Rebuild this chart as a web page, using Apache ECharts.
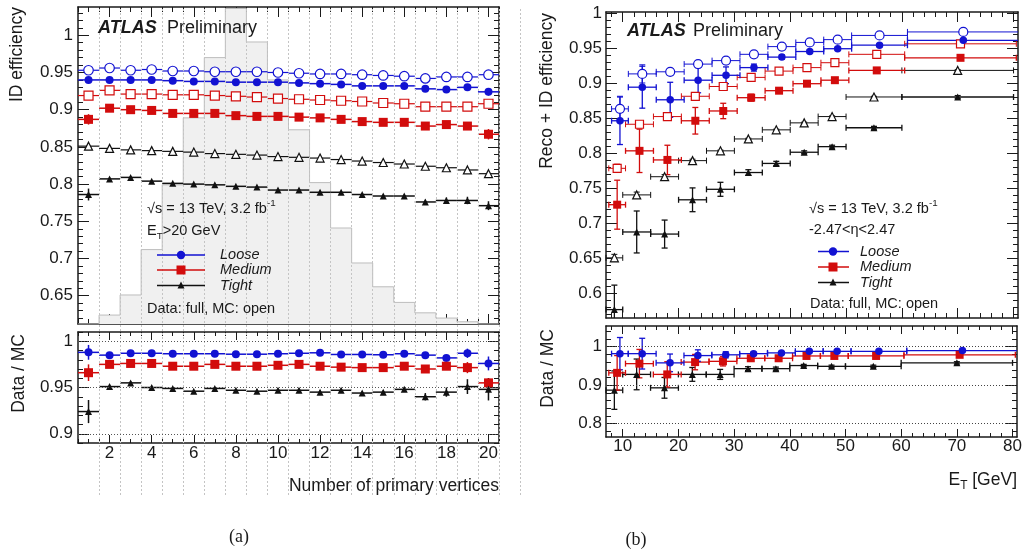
<!DOCTYPE html>
<html>
<head>
<meta charset="utf-8">
<script src="https://cdn.jsdelivr.net/npm/echarts@6/dist/echarts.min.js"></script>
<style>
  html, body { margin: 0; padding: 0; background: #fff; }
  #chart { width: 1025px; height: 559px; }
</style>
</head>
<body>
<div id="chart"></div>
<script>
// ---------- (a) efficiency vs number of primary vertices ----------
const nvtx = [1, 2, 3, 4, 5, 6, 7, 8, 9, 10, 11, 12, 13, 14, 15, 16, 17, 18, 19, 20];
// MC pile-up distribution, drawn as a step histogram on the efficiency scale
const nvtxHist = [0.612, 0.624, 0.651, 0.712, 0.799, 0.889, 0.970, 1.036, 0.991, 0.940,
                  0.873, 0.802, 0.741, 0.694, 0.662, 0.641, 0.627, 0.620, 0.615, 0.612];

const looseDataNv  = [0.940, 0.940, 0.940, 0.940, 0.939, 0.938, 0.938, 0.937, 0.937, 0.937, 0.936, 0.935, 0.934, 0.932, 0.932, 0.932, 0.928, 0.927, 0.930, 0.924];
const looseMcNv    = [0.953, 0.956, 0.953, 0.954, 0.952, 0.952, 0.951, 0.951, 0.951, 0.950, 0.949, 0.948, 0.948, 0.947, 0.946, 0.945, 0.942, 0.944, 0.944, 0.947];
const mediumDataNv = [0.887, 0.902, 0.900, 0.899, 0.895, 0.895, 0.895, 0.892, 0.891, 0.891, 0.890, 0.889, 0.887, 0.884, 0.883, 0.883, 0.878, 0.880, 0.878, 0.867];
const mediumMcNv   = [0.919, 0.926, 0.921, 0.921, 0.920, 0.920, 0.919, 0.918, 0.917, 0.915, 0.914, 0.913, 0.912, 0.911, 0.909, 0.908, 0.904, 0.904, 0.904, 0.908];
const tightDataNv  = [0.786, 0.807, 0.809, 0.804, 0.801, 0.800, 0.799, 0.797, 0.796, 0.792, 0.792, 0.789, 0.789, 0.786, 0.784, 0.784, 0.776, 0.778, 0.778, 0.771];
const tightMcNv    = [0.851, 0.848, 0.846, 0.845, 0.844, 0.843, 0.841, 0.840, 0.839, 0.837, 0.836, 0.835, 0.833, 0.831, 0.829, 0.827, 0.824, 0.822, 0.819, 0.814];

const looseDataNvErr  = [0.004, 0.001, 0.001, 0.001, 0.001, 0.001, 0.001, 0.001, 0.001, 0.001, 0.001, 0.001, 0.001, 0.001, 0.002, 0.002, 0.002, 0.003, 0.003, 0.005];
const mediumDataNvErr = [0.007, 0.002, 0.001, 0.001, 0.001, 0.001, 0.001, 0.001, 0.001, 0.001, 0.001, 0.001, 0.002, 0.002, 0.002, 0.002, 0.003, 0.003, 0.004, 0.007];
const tightDataNvErr  = [0.008, 0.002, 0.002, 0.001, 0.001, 0.001, 0.001, 0.001, 0.001, 0.001, 0.001, 0.002, 0.002, 0.002, 0.002, 0.002, 0.003, 0.004, 0.005, 0.006];

const looseRatioNv  = [0.988, 0.985, 0.987, 0.987, 0.9865, 0.9865, 0.9865, 0.986, 0.986, 0.9865, 0.987, 0.9875, 0.9857, 0.9857, 0.9854, 0.9865, 0.985, 0.982, 0.987, 0.976];
const mediumRatioNv = [0.966, 0.975, 0.976, 0.976, 0.973, 0.973, 0.975, 0.973, 0.973, 0.974, 0.975, 0.973, 0.972, 0.9715, 0.9715, 0.973, 0.970, 0.973, 0.9715, 0.955];
const tightRatioNv  = [0.924, 0.951, 0.955, 0.950, 0.949, 0.946, 0.949, 0.947, 0.946, 0.947, 0.947, 0.945, 0.947, 0.944, 0.945, 0.948, 0.940, 0.945, 0.951, 0.948];
const looseRatioNvErr  = [0.008, 0.001, 0.001, 0.001, 0.001, 0.001, 0.001, 0.001, 0.001, 0.001, 0.001, 0.001, 0.001, 0.001, 0.002, 0.002, 0.002, 0.003, 0.005, 0.0075];
const mediumRatioNvErr = [0.009, 0.001, 0.001, 0.001, 0.001, 0.001, 0.001, 0.001, 0.001, 0.001, 0.001, 0.001, 0.002, 0.002, 0.002, 0.002, 0.003, 0.003, 0.006, 0.005];
const tightRatioNvErr  = [0.0125, 0.002, 0.002, 0.002, 0.001, 0.001, 0.001, 0.001, 0.002, 0.002, 0.002, 0.002, 0.002, 0.002, 0.002, 0.002, 0.004, 0.005, 0.008, 0.012];

// ---------- (b) efficiency vs E_T ----------
const etLow  = [7, 10, 15, 20, 25, 30, 35, 40, 45, 50, 60];
const etHigh = [10, 15, 20, 25, 30, 35, 40, 45, 50, 60, 80];

const looseDataEt  = [0.846, 0.894, 0.876, 0.904, 0.911, 0.922, 0.937, 0.945, 0.949, 0.954, 0.961];
const looseMcEt    = [0.863, 0.913, 0.916, 0.927, 0.932, 0.941, 0.952, 0.958, 0.962, 0.968, 0.973];
const mediumDataEt = [0.726, 0.803, 0.790, 0.846, 0.860, 0.879, 0.889, 0.899, 0.904, 0.918, 0.936];
const mediumMcEt   = [0.778, 0.841, 0.852, 0.881, 0.895, 0.908, 0.917, 0.922, 0.929, 0.941, 0.956];
const tightDataEt  = [0.576, 0.687, 0.684, 0.733, 0.748, 0.772, 0.785, 0.801, 0.809, 0.836, 0.880];
const tightMcEt    = [0.650, 0.740, 0.766, 0.789, 0.803, 0.820, 0.833, 0.843, 0.852, 0.880, 0.918];

const looseDataEtErr  = [0.034, 0.030, 0.025, 0.018, 0.012, 0.005, 0.003, 0.002, 0.002, 0.002, 0.002];
const looseMcEtErr    = [0.018, 0.013, 0.004, 0.003, 0.002, 0.001, 0.001, 0.001, 0.001, 0.001, 0.001];
const mediumDataEtErr = [0.035, 0.031, 0.021, 0.019, 0.011, 0.005, 0.003, 0.002, 0.002, 0.002, 0.002];
const mediumMcEtErr   = [0.006, 0.004, 0.003, 0.002, 0.001, 0.001, 0.001, 0.001, 0.001, 0.001, 0.001];
const tightDataEtErr  = [0.035, 0.030, 0.020, 0.017, 0.010, 0.004, 0.003, 0.002, 0.002, 0.002, 0.002];
const tightMcEtErr    = [0.005, 0.004, 0.003, 0.002, 0.001, 0.001, 0.001, 0.001, 0.001, 0.001, 0.001];

const looseRatioEt  = [0.982, 0.982, 0.958, 0.977, 0.979, 0.982, 0.984, 0.988, 0.988, 0.988, 0.990];
const mediumRatioEt = [0.932, 0.956, 0.928, 0.960, 0.962, 0.970, 0.970, 0.976, 0.976, 0.976, 0.979];
const tightRatioEt  = [0.887, 0.928, 0.893, 0.928, 0.928, 0.943, 0.943, 0.951, 0.949, 0.949, 0.958];
const looseRatioEtErr  = [0.042, 0.040, 0.023, 0.015, 0.008, 0.004, 0.003, 0.002, 0.002, 0.002, 0.002];
const mediumRatioEtErr = [0.045, 0.037, 0.033, 0.020, 0.012, 0.005, 0.004, 0.003, 0.003, 0.003, 0.003];
const tightRatioEtErr  = [0.050, 0.040, 0.027, 0.018, 0.013, 0.005, 0.004, 0.003, 0.003, 0.003, 0.003];

// ---------- tick labels ----------
const nvtxTicks   = [2, 4, 6, 8, 10, 12, 14, 16, 18, 20];
const etTicks     = [10, 20, 30, 40, 50, 60, 70, 80];
const effTicksA   = [0.65, 0.7, 0.75, 0.8, 0.85, 0.9, 0.95, 1];
const ratioTicksA = [0.9, 0.95, 1];
const effTicksB   = [0.6, 0.65, 0.7, 0.75, 0.8, 0.85, 0.9, 0.95, 1];
const ratioTicksB = [0.8, 0.9, 1];

// ---------- styling ----------
const FONT = '"Liberation Sans", Arial, Helvetica, sans-serif';
const INK = '#1a1a1a';
const BLUE = '#1212d2';
const RED = '#d20c0c';
const BLACK = '#111111';
const SHIFT = { loose: 1.0, medium: 0.5, tight: 0.0 };   // horizontal offsets in panel (b)

function minorTicks(min, max, step, majors) {
  const out = [];
  const start = Math.ceil(min / step - 1e-9);
  for (let k = start; k * step <= max + 1e-9; k++) {
    const v = Math.round(k * step * 1e4) / 1e4;
    if (!majors.some(m => Math.abs(m - v) < 1e-6)) out.push(v);
  }
  return out;
}

const xAxes = [];
const yAxes = [];

// Builds a ROOT-style closed frame (major + minor inward ticks on all four sides)
function addFrame(gi, xr, yr, xMaj, xStep, yMaj, yStep, o) {
  const xi = xAxes.length, yi = yAxes.length;
  const xMin = minorTicks(xr[0], xr[1], xStep, xMaj);
  const yMin = minorTicks(yr[0], yr[1], yStep, yMaj);
  const frameLine = { show: true, onZero: false, lineStyle: { color: INK, width: 1.5 } };
  ['bottom', 'top'].forEach((pos, k) => {
    xAxes.push({
      gridIndex: gi, type: 'value', min: xr[0], max: xr[1], position: pos,
      axisLine: frameLine,
      axisTick: { show: true, inside: true, length: o.xMajLen, customValues: xMaj, lineStyle: { color: INK, width: 1 } },
      axisLabel: { show: k === 0 && o.xLabels, customValues: xMaj, margin: o.xMargin, color: INK,
                   fontSize: 17, fontFamily: FONT, formatter: v => String(v) },
      splitLine: { show: false }
    });
    xAxes.push({
      gridIndex: gi, type: 'value', min: xr[0], max: xr[1], position: pos,
      axisLine: { show: false, onZero: false },
      axisTick: { show: true, inside: true, length: o.xMinLen, customValues: xMin, lineStyle: { color: INK, width: 1 } },
      axisLabel: { show: false }, splitLine: { show: false }
    });
  });
  ['left', 'right'].forEach((pos, k) => {
    yAxes.push({
      gridIndex: gi, type: 'value', min: yr[0], max: yr[1], position: pos,
      axisLine: frameLine,
      axisTick: { show: true, inside: true, length: o.yMajLen, customValues: yMaj, lineStyle: { color: INK, width: 1 } },
      axisLabel: { show: k === 0, customValues: yMaj, margin: o.yMargin, color: INK,
                   fontSize: 17, fontFamily: FONT, formatter: v => String(+(+v).toFixed(3)) },
      splitLine: { show: false }
    });
    yAxes.push({
      gridIndex: gi, type: 'value', min: yr[0], max: yr[1], position: pos,
      axisLine: { show: false, onZero: false },
      axisTick: { show: true, inside: true, length: o.yMinLen, customValues: yMin, lineStyle: { color: INK, width: 1 } },
      axisLabel: { show: false }, splitLine: { show: false }
    });
  });
  return { xi, yi };
}

const grids = [
  { left: 78, top: 7, width: 421, height: 317 },     // (a) efficiency
  { left: 78, top: 332, width: 421, height: 111 },   // (a) ratio
  { left: 606, top: 12, width: 412, height: 306 },   // (b) efficiency
  { left: 606, top: 326, width: 412, height: 111 },  // (b) ratio
  { left: 78, top: 7, width: 421 * 21 / 20, height: 488 }  // bin-edge guide lines of (a)
];

const nvRange = [0.5, 20.5];
const etRange = [7, 80.8];
const fA  = addFrame(0, nvRange, [0.612, 1.038], nvtxTicks, 0.5, effTicksA, 0.01,
  { xLabels: false, xMajLen: 10, xMinLen: 5, yMajLen: 11, yMinLen: 5, xMargin: 3, yMargin: 5 });
const fAr = addFrame(1, nvRange, [0.89, 1.01], nvtxTicks, 0.5, ratioTicksA, 0.01,
  { xLabels: true, xMajLen: 8, xMinLen: 4, yMajLen: 11, yMinLen: 5, xMargin: 2, yMargin: 5 });
const fB  = addFrame(2, etRange, [0.564, 1.0015], etTicks, 2, effTicksB, 0.01,
  { xLabels: false, xMajLen: 10, xMinLen: 5, yMajLen: 11, yMinLen: 5, xMargin: 3, yMargin: 4 });
const fBr = addFrame(3, etRange, [0.765, 1.054], etTicks, 2, ratioTicksB, 0.02,
  { xLabels: true, xMajLen: 8, xMinLen: 4, yMajLen: 11, yMinLen: 5, xMargin: 1, yMargin: 4 });

const guideXi = xAxes.length, guideYi = yAxes.length;
xAxes.push({ gridIndex: 4, type: 'value', min: 0.5, max: nvtx.length + 1.5, show: false });
yAxes.push({ gridIndex: 4, type: 'value', min: 0, max: 1, show: false });

// error bars: horizontal bin-width bar plus vertical uncertainty, clipped to the frame
function errRenderer(color, lw, caps) {
  return function (params, api) {
    const cs = params.coordSys;
    const x0 = cs.x, x1 = cs.x + cs.width, y0 = cs.y, y1 = cs.y + cs.height;
    const clx = v => Math.max(x0, Math.min(x1, v));
    const cly = v => Math.max(y0, Math.min(y1, v));
    const y = api.value(3), e = api.value(4), xc = api.value(2);
    const pL = api.coord([api.value(0), y]);
    const pR = api.coord([api.value(1), y]);
    const pT = api.coord([xc, y + e]);
    const pB = api.coord([xc, y - e]);
    const px = api.coord([xc, y])[0];
    const yy = pL[1];
    const st = { stroke: color, lineWidth: lw, fill: null };
    const kids = [];
    if (yy >= y0 && yy <= y1) {
      kids.push({ type: 'line', shape: { x1: clx(pL[0]), y1: yy, x2: clx(pR[0]), y2: yy }, style: st });
      if (caps) {
        if (pL[0] >= x0) kids.push({ type: 'line', shape: { x1: pL[0], y1: yy - 3, x2: pL[0], y2: yy + 3 }, style: st });
        if (pR[0] <= x1) kids.push({ type: 'line', shape: { x1: pR[0], y1: yy - 3, x2: pR[0], y2: yy + 3 }, style: st });
      }
    }
    if (e > 0) {
      kids.push({ type: 'line', shape: { x1: px, y1: cly(pT[1]), x2: px, y2: cly(pB[1]) }, style: st });
      if (caps) {
        if (pT[1] >= y0) kids.push({ type: 'line', shape: { x1: px - 3, y1: pT[1], x2: px + 3, y2: pT[1] }, style: st });
        if (pB[1] <= y1) kids.push({ type: 'line', shape: { x1: px - 3, y1: pB[1], x2: px + 3, y2: pB[1] }, style: st });
      }
    }
    return { type: 'group', children: kids };
  };
}

function pointsSeries(frame, xs, lo, hi, vals, errs, st) {
  const errData = xs.map((x, i) => [lo[i], hi[i], x, vals[i], errs ? errs[i] : 0]);
  return [
    {
      type: 'custom', xAxisIndex: frame.xi, yAxisIndex: frame.yi, silent: true, z: 3,
      encode: { x: 2, y: 3 },
      renderItem: errRenderer(st.color, st.lw, st.caps),
      data: errData
    },
    {
      type: 'scatter', xAxisIndex: frame.xi, yAxisIndex: frame.yi, silent: true, z: 4,
      symbol: st.symbol, symbolSize: st.size,
      itemStyle: st.open ? { color: '#ffffff', borderColor: st.color, borderWidth: 1.2, opacity: 1 }
                         : { color: st.color, opacity: 1 },
      data: xs.map((x, i) => [x, vals[i]])
    }
  ];
}

const series = [];

// histogram (step outline + light fill)
const histPts = nvtx.map((n, i) => [n - 0.5, nvtxHist[i]]);
histPts.push([nvtx[nvtx.length - 1] + 0.5, nvtxHist[nvtxHist.length - 1]]);
series.push({
  type: 'line', xAxisIndex: fA.xi, yAxisIndex: fA.yi, step: 'end', symbol: 'none', silent: true, z: 1,
  lineStyle: { color: '#bdbdbd', width: 1 },
  areaStyle: { color: '#f0f0f0', opacity: 1, origin: 'start' },
  data: histPts
});

// dashed guide lines at the bin edges of (a)
series.push({
  type: 'line', xAxisIndex: guideXi, yAxisIndex: guideYi, data: [], silent: true, z: 2,
  markLine: {
    silent: true, symbol: 'none', label: { show: false },
    lineStyle: { color: '#c4c4c4', width: 1, type: [2, 2] },
    data: nvtx.map(n => n + 0.5).concat([nvtx.length + 1.5]).map(v => ({ xAxis: v }))
  }
});

// dotted reference lines in the ratio panels
series.push({
  type: 'line', xAxisIndex: fAr.xi, yAxisIndex: fAr.yi, data: [], silent: true, z: 2,
  markLine: { silent: true, symbol: 'none', label: { show: false },
    lineStyle: { color: '#555', width: 1, type: [1, 2] },
    data: ratioTicksA.map(v => ({ yAxis: v })) }
});
series.push({
  type: 'line', xAxisIndex: fBr.xi, yAxisIndex: fBr.yi, data: [], silent: true, z: 2,
  markLine: { silent: true, symbol: 'none', label: { show: false },
    lineStyle: { color: '#444', width: 1, type: [1, 2] },
    data: ratioTicksB.map(v => ({ yAxis: v })) }
});

// ---- panel (a) points ----
const nvLo = nvtx.map(n => n - 0.5), nvHi = nvtx.map(n => n + 0.5);
const wpA = [
  { mc: looseMcNv,  data: looseDataNv,  err: looseDataNvErr,  ratio: looseRatioNv,  rerr: looseRatioNvErr,  color: BLUE,  sym: 'circle',   sD: 8, sO: 9.5 },
  { mc: mediumMcNv, data: mediumDataNv, err: mediumDataNvErr, ratio: mediumRatioNv, rerr: mediumRatioNvErr, color: RED,   sym: 'rect',     sD: 9, sO: 9 },
  { mc: tightMcNv,  data: tightDataNv,  err: tightDataNvErr,  ratio: tightRatioNv,  rerr: tightRatioNvErr,  color: BLACK, sym: 'triangle', sD: 7, sO: 8 }
];
wpA.forEach(w => {
  series.push(...pointsSeries(fA, nvtx, nvLo, nvHi, w.mc, null,
    { color: w.color, lw: 1.2, caps: false, symbol: w.sym, size: w.sO, open: true }));
  series.push(...pointsSeries(fA, nvtx, nvLo, nvHi, w.data, w.err,
    { color: w.color, lw: 1.5, caps: false, symbol: w.sym, size: w.sD, open: false }));
  series.push(...pointsSeries(fAr, nvtx, nvLo, nvHi, w.ratio, w.rerr,
    { color: w.color, lw: 1.5, caps: false, symbol: w.sym, size: w.sD, open: false }));
});

// ---- panel (b) points ----
const wpB = [
  { key: 'tight',  mc: tightMcEt,  mcErr: tightMcEtErr,  data: tightDataEt,  err: tightDataEtErr,  ratio: tightRatioEt,  rerr: tightRatioEtErr,  color: BLACK, sym: 'triangle', sD: 7, sO: 8 },
  { key: 'medium', mc: mediumMcEt, mcErr: mediumMcEtErr, data: mediumDataEt, err: mediumDataEtErr, ratio: mediumRatioEt, rerr: mediumRatioEtErr, color: RED,   sym: 'rect',     sD: 8, sO: 8 },
  { key: 'loose',  mc: looseMcEt,  mcErr: looseMcEtErr,  data: looseDataEt,  err: looseDataEtErr,  ratio: looseRatioEt,  rerr: looseRatioEtErr,  color: BLUE,  sym: 'circle',   sD: 7.5, sO: 9 }
];
wpB.forEach(w => {
  const s = SHIFT[w.key];
  const lo = etLow.map(v => v + s), hi = etHigh.map(v => v + s);
  const xs = etLow.map((v, i) => (v + etHigh[i]) / 2 + s);
  series.push(...pointsSeries(fB, xs, lo, hi, w.mc, w.mcErr,
    { color: w.color, lw: 1, caps: true, symbol: w.sym, size: w.sO, open: true }));
  series.push(...pointsSeries(fB, xs, lo, hi, w.data, w.err,
    { color: w.color, lw: 1.3, caps: true, symbol: w.sym, size: w.sD, open: false }));
  series.push(...pointsSeries(fBr, xs, lo, hi, w.ratio, w.rerr,
    { color: w.color, lw: 1.3, caps: true, symbol: w.sym, size: w.sD, open: false }));
});

// ---------- text and legends ----------
const g = [];
function txt(x, y, text, o) {
  o = o || {};
  g.push({
    type: 'text', x, y, rotation: o.rot || 0, silent: true, z: 10,
    style: {
      text, fill: o.color || INK,
      font: `${o.style || 'normal'} ${o.weight || 'normal'} ${o.size || 14.5}px ${o.family || FONT}`,
      align: o.align || 'left', verticalAlign: o.va || 'middle',
      rich: o.rich
    }
  });
}
function richBase(size) {
  return {
    n: { fontSize: size, fontFamily: FONT, lineHeight: size + 6, verticalAlign: 'middle', color: INK },
    sub: { fontSize: size * 0.68, fontFamily: FONT, lineHeight: size * 0.68, verticalAlign: 'bottom', color: INK },
    sup: { fontSize: size * 0.68, fontFamily: FONT, lineHeight: size * 0.68, verticalAlign: 'top', color: INK }
  };
}
function legendRow(x0, x1, xm, xt, y, color, sym, label) {
  g.push({ type: 'line', silent: true, z: 10, shape: { x1: x0, y1: y, x2: x1, y2: y }, style: { stroke: color, lineWidth: 1.5 } });
  if (sym === 'circle') g.push({ type: 'circle', silent: true, z: 11, shape: { cx: xm, cy: y, r: 4.2 }, style: { fill: color } });
  if (sym === 'rect') g.push({ type: 'rect', silent: true, z: 11, shape: { x: xm - 4.5, y: y - 4.5, width: 9, height: 9 }, style: { fill: color } });
  if (sym === 'triangle') g.push({ type: 'polygon', silent: true, z: 11, shape: { points: [[xm, y - 4], [xm + 3.5, y + 3], [xm - 3.5, y + 3]] }, style: { fill: color } });
  txt(xt, y, label, { style: 'italic', size: 14.5 });
}

// panel (a) labels
txt(98, 28, 'ATLAS', { style: 'italic', weight: 'bold', size: 18 });
txt(167, 28, 'Preliminary', { size: 18 });
txt(147, 209, '{n|√s = 13 TeV, 3.2 fb}{sup|-1}', { rich: richBase(14.5) });
txt(147, 231, '{n|E}{sub|T}{n|>20 GeV}', { rich: richBase(14.5) });
legendRow(157, 205, 181, 220, 255, BLUE, 'circle', 'Loose');
legendRow(157, 205, 181, 220, 270, RED, 'rect', 'Medium');
legendRow(157, 205, 181, 220, 285.5, BLACK, 'triangle', 'Tight');
txt(147, 309, 'Data: full, MC: open', { size: 14.5 });
txt(17, 7, 'ID efficiency', { size: 17.5, rot: Math.PI / 2, align: 'right' });
txt(19, 334, 'Data / MC', { size: 17.5, rot: Math.PI / 2, align: 'right' });
txt(499, 486, 'Number of primary vertices', { size: 17.5, align: 'right' });

// panel (b) labels
txt(627, 31, 'ATLAS', { style: 'italic', weight: 'bold', size: 18 });
txt(693, 31, 'Preliminary', { size: 18 });
txt(809, 209, '{n|√s = 13 TeV, 3.2 fb}{sup|-1}', { rich: richBase(14.5) });
txt(809, 230, '-2.47<η<2.47', { size: 14.5 });
legendRow(818, 849, 833, 860, 251.5, BLUE, 'circle', 'Loose');
legendRow(818, 849, 833, 860, 267, RED, 'rect', 'Medium');
legendRow(818, 849, 833, 860, 282.5, BLACK, 'triangle', 'Tight');
txt(810, 304, 'Data: full, MC: open', { size: 14.5 });
txt(547, 13, 'Reco + ID efficiency', { size: 17.5, rot: Math.PI / 2, align: 'right' });
txt(548, 329, 'Data / MC', { size: 17.5, rot: Math.PI / 2, align: 'right' });
txt(1017, 480, '{n|E}{sub|T}{n| [GeV]}', { align: 'right', rich: richBase(17.5) });

// sub-figure captions
txt(239, 537, '(a)', { size: 18, family: '"Liberation Serif", "DejaVu Serif", serif', align: 'center' });
txt(636, 540, '(b)', { size: 18, family: '"Liberation Serif", "DejaVu Serif", serif', align: 'center' });

const chart = echarts.init(document.getElementById('chart'), null, { renderer: 'canvas' });
chart.setOption({
  animation: false,
  backgroundColor: '#ffffff',
  grid: grids,
  xAxis: xAxes,
  yAxis: yAxes,
  series: series,
  graphic: g
});
</script>
</body>
</html>
